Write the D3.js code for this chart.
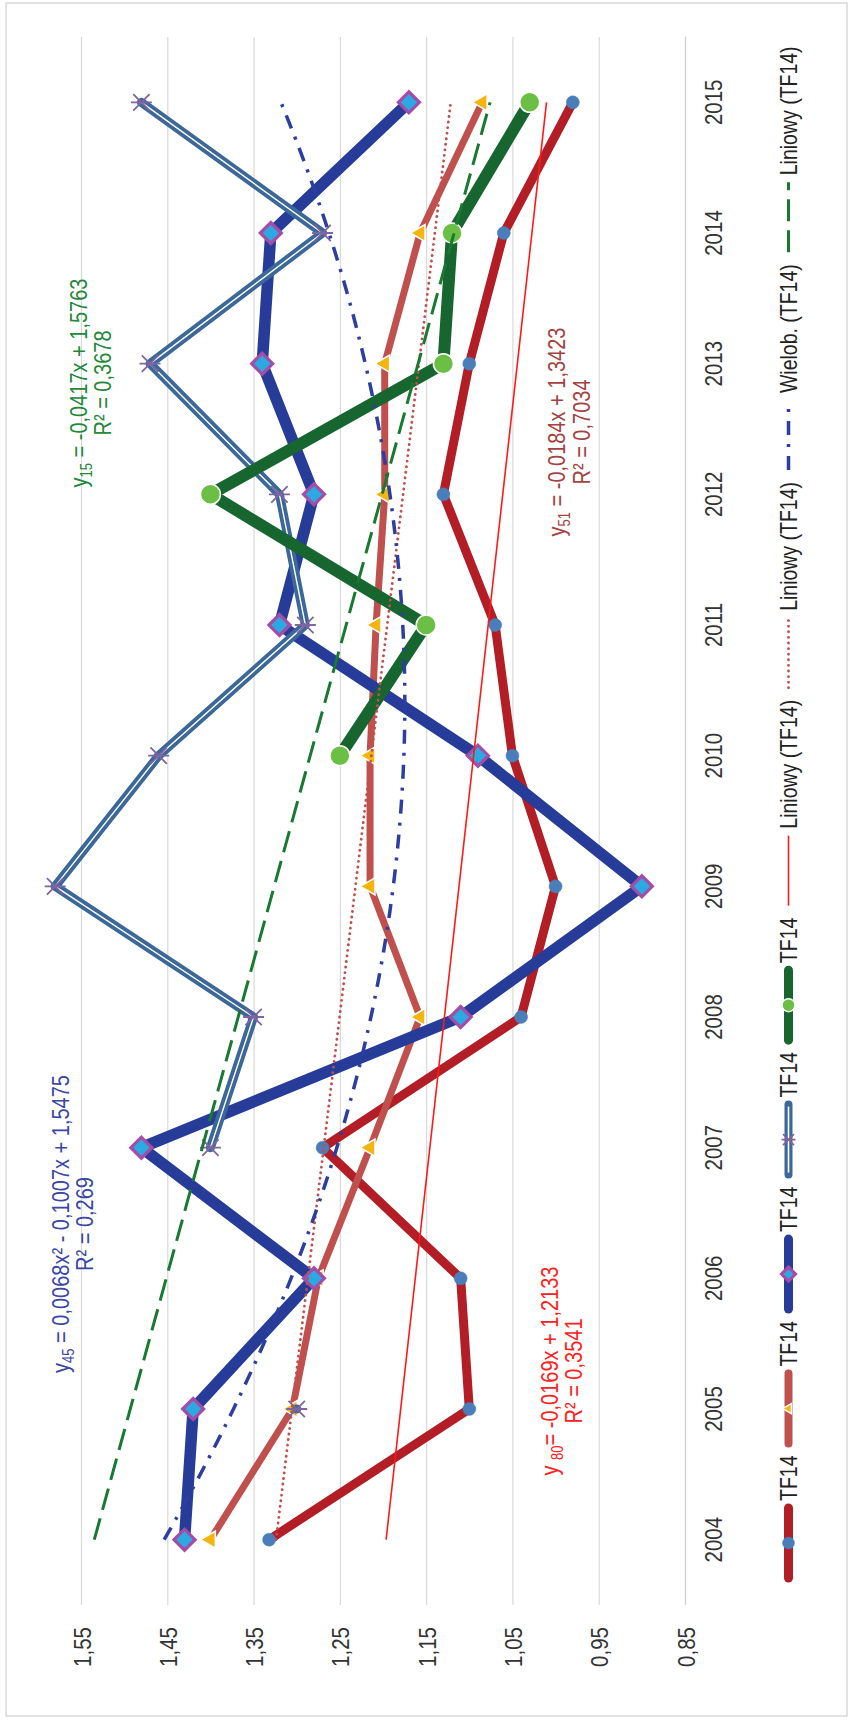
<!DOCTYPE html>
<html><head><meta charset="utf-8">
<script src="https://cdn.jsdelivr.net/npm/d3@7"></script>
<style>body{margin:0;background:#fff}svg{display:block}</style>
</head><body>
<script>
// ---------- data ----------
const years = [2004,2005,2006,2007,2008,2009,2010,2011,2012,2013,2014,2015];
const seriesRed   = [1.332,1.10,1.11,1.27,1.04,1.00,1.05,1.07,1.13,1.10,1.06,0.98];
const seriesBrown = [1.40,1.305,1.275,1.215,1.157,1.215,1.215,1.208,1.198,1.198,1.157,1.085];
const seriesNavy  = [1.43,1.42,1.28,1.48,1.11,0.90,1.09,1.32,1.28,1.34,1.33,1.17];
const seriesSteel = [null,1.30,null,1.40,1.35,1.58,1.46,1.29,1.32,1.47,1.27,1.48];
const seriesGreen = [null,null,null,null,null,null,1.25,1.15,1.40,1.13,1.12,1.03];
const valueTicks  = [0.85,0.95,1.05,1.15,1.25,1.35,1.45,1.55];
const tickLabels  = ["0,85","0,95","1,05","1,15","1,25","1,35","1,45","1,55"];
const legendLabels = ["TF14","TF14","TF14","TF14","TF14","Liniowy (TF14)","Liniowy (TF14)","Wielob. (TF14)","Liniowy (TF14)"];
const trendRedLin   = [-0.0169, 1.2133];
const trendBrownLin = [-0.0184, 1.3423];
const trendNavyPoly = [0.0068, -0.1007, 1.5475];
const trendGreenLin = [-0.0417, 1.5763];
const eqTexts = [
  ["y","15"," = -0,0417x + 1,5763","R² = 0,3678"],
  ["y","45"," = 0,0068x² - 0,1007x + 1,5475","R² = 0,269"],
  ["y","51"," = -0,0184x + 1,3423","R² = 0,7034"],
  ["y ","80","= -0,0169x + 1,2133","R² = 0,3541"]
];

// ---------- setup ----------
const W = 854, H = 1726, SY = 1.2;
const FONT = '"Liberation Sans", Arial, Helvetica, sans-serif';
const svg = d3.select("body").append("svg").attr("width", W).attr("height", H)
  .style("font-family", FONT);
svg.append("rect").attr("width", W).attr("height", H).attr("fill", "#fff");
// chart drawn in landscape frame, rotated 90° counter-clockwise
const g = svg.append("g").attr("transform", `translate(0,${H}) rotate(-90)`);

g.append("rect").attr("x", 10).attr("y", 6).attr("width", 1713).attr("height", 841)
  .attr("fill", "none").attr("stroke", "#d9d9d9").attr("stroke-width", 1.5);

const X0 = 121, X1 = 1689;
const xBand = d3.scaleBand().domain(years).range([X0, X1]);
const xc = yr => xBand(yr) + xBand.bandwidth() / 2;
const xi = d3.scaleLinear().domain([1, 12]).range([xc(years[0]), xc(years[11])]);
const y = d3.scaleLinear().domain([0.85, 1.55]).range([685, 81]);

function stretchText(sel, x, base) {
  return sel.attr("x", x).attr("y", base / SY).attr("transform", `scale(1,${SY})`);
}

// value axis with gridlines
const yAxis = g.append("g").attr("transform", `translate(${X0},0)`)
  .call(d3.axisLeft(y).tickValues(valueTicks).tickSize(-(X1 - X0)).tickPadding(22)
    .tickFormat((d, i) => tickLabels[i]));
yAxis.select(".domain").remove();
yAxis.selectAll(".tick line").attr("stroke", "#d9d9d9").attr("stroke-width", 1.2);
yAxis.selectAll(".tick text").attr("fill", "#333").attr("font-size", 20.5)
  .attr("font-family", FONT).attr("dy", "0.37em").attr("transform", `scale(1,${SY})`);

// category axis
const xAxis = g.append("g").attr("transform", "translate(0,685)")
  .call(d3.axisBottom(xBand).tickSize(0).tickPadding(0));
xAxis.select(".domain").attr("stroke", "#d0d0d0").attr("stroke-width", 1.2);
xAxis.selectAll(".tick text").attr("fill", "#333").attr("font-size", 20.5)
  .attr("font-family", FONT).attr("dy", 0).attr("y", 37 / SY).attr("transform", `scale(1,${SY})`);

// ---------- series ----------
const toPts = arr => years.map((yr, i) => ({ yr, v: arr[i] }));
const line = d3.line().defined(d => d.v != null).x(d => xc(d.yr)).y(d => y(d.v));

function pathLine(arr, color, w) {
  return g.append("path").datum(toPts(arr)).attr("d", line).attr("fill", "none")
    .attr("stroke", color).attr("stroke-width", w)
    .attr("stroke-linejoin", "round").attr("stroke-linecap", "round");
}

const diamondPath = r => `M0,${-r}L${r},0L0,${r}L${-r},0Z`;
const starPath = r => { const a = r * 0.78; return `M0,${-r}L0,${r}M${-a},${-a}L${a},${a}M${-a},${a}L${a},${-a}`; };

function markers(arr, drawFn) {
  toPts(arr).filter(d => d.v != null).forEach(d => drawFn(g, xc(d.yr), y(d.v)));
}
const mkDot = (p, cx, cy, r = 6.5) => p.append("circle").attr("cx", cx).attr("cy", cy).attr("r", r)
  .attr("fill", "#4a7ebb").attr("stroke", "#4a7ebb").attr("stroke-width", 0.5);
const mkTri = (p, cx, cy, s = 125) => p.append("path").attr("d", d3.symbol(d3.symbolTriangle, s)())
  .attr("transform", `translate(${cx},${cy})`).attr("fill", "#f5b50f").attr("stroke", "#fff").attr("stroke-width", 1.5);
const mkDia = (p, cx, cy, r = 10.5) => p.append("path").attr("d", diamondPath(r))
  .attr("transform", `translate(${cx},${cy})`).attr("fill", "#2aaae0").attr("stroke", "#a54ca8").attr("stroke-width", 3.2);
const mkStar = (p, cx, cy, r = 10.5) => p.append("path").attr("d", starPath(r))
  .attr("transform", `translate(${cx},${cy})`).attr("fill", "none").attr("stroke", "#8064a2").attr("stroke-width", 1.8);
const mkCirc = (p, cx, cy, r = 10) => p.append("circle").attr("cx", cx).attr("cy", cy).attr("r", r)
  .attr("fill", "#6cbf45").attr("stroke", "#fff").attr("stroke-width", 1.5);

// 1 red
pathLine(seriesRed, "#b31d25", 9); markers(seriesRed, mkDot);
// 2 brown
pathLine(seriesBrown, "#c0504d", 7); markers(seriesBrown, mkTri);
// 3 navy
pathLine(seriesNavy, "#273c98", 11.5); markers(seriesNavy, mkDia);
// 4 steel double
pathLine(seriesSteel, "#3b6899", 9); pathLine(seriesSteel, "#fff", 1.4); markers(seriesSteel, mkStar);
// 5 green
pathLine(seriesGreen, "#17652f", 12); markers(seriesGreen, mkCirc);

// ---------- trendlines ----------
const trendLine = d3.line().x(d => xi(d.i)).y(d => y(d.v));
function linTrend(c) { return [1, 12].map(i => ({ i, v: c[0] * i + c[1] })); }
const polyPts = d3.range(1, 12.001, 0.1).map(i => ({ i, v: trendNavyPoly[0] * i * i + trendNavyPoly[1] * i + trendNavyPoly[2] }));

g.append("path").datum(linTrend(trendRedLin)).attr("d", trendLine).attr("fill", "none")
  .attr("stroke", "#ff1a1a").attr("stroke-width", 1.6);
g.append("path").datum(linTrend(trendBrownLin)).attr("d", trendLine).attr("fill", "none")
  .attr("stroke", "#c0504d").attr("stroke-width", 2.8).attr("stroke-linecap", "round").attr("stroke-dasharray", "0.1 5.5");
g.append("path").datum(polyPts).attr("d", trendLine).attr("fill", "none")
  .attr("stroke", "#2c3ea0").attr("stroke-width", 3.5).attr("stroke-dasharray", "14 9 3 9");
g.append("path").datum(linTrend(trendGreenLin)).attr("d", trendLine).attr("fill", "none")
  .attr("stroke", "#187a30").attr("stroke-width", 3).attr("stroke-dasharray", "22 9");

// ---------- equation labels ----------
const eqLayout = [
  { x: 1343, b1: 87, b2: 111, color: "#22883a" },
  { x: 502, b1: 69, b2: 93, color: "#3a47a6" },
  { x: 1294, b1: 565, b2: 590, color: "#a4423f" },
  { x: 355, b1: 558, b2: 582, color: "#ff2020" }
];
eqTexts.forEach((e, k) => {
  const L = eqLayout[k];
  const t1 = stretchText(g.append("text"), L.x, L.b1).attr("text-anchor", "middle")
    .attr("font-size", 20).attr("fill", L.color);
  t1.append("tspan").text(e[0]);
  t1.append("tspan").attr("font-size", 13).attr("dy", 4).text(e[1]);
  t1.append("tspan").attr("dy", -4).text(e[2]);
  stretchText(g.append("text"), L.x, L.b2).attr("text-anchor", "middle")
    .attr("font-size", 20).attr("fill", L.color).text(e[3]);
});

// ---------- legend ----------
const LY = 788.5, SYM = 70;
let lx = 148;
const legendDraw = [
  p => { p.append("line").attr("x1", 0).attr("x2", SYM).attr("stroke", "#b31d25").attr("stroke-width", 9).attr("stroke-linecap", "round"); mkDot(p, SYM / 2, 0, 6); },
  p => { p.append("line").attr("x1", 0).attr("x2", SYM).attr("stroke", "#c0504d").attr("stroke-width", 8).attr("stroke-linecap", "round"); mkTri(p, SYM / 2, 0, 45); },
  p => { p.append("line").attr("x1", 0).attr("x2", SYM).attr("stroke", "#273c98").attr("stroke-width", 9).attr("stroke-linecap", "round"); mkDia(p, SYM / 2, 0, 7); },
  p => { p.append("line").attr("x1", 0).attr("x2", SYM).attr("stroke", "#3b6899").attr("stroke-width", 8).attr("stroke-linecap", "round");
         p.append("line").attr("x1", 2).attr("x2", SYM - 2).attr("stroke", "#fff").attr("stroke-width", 1.6); mkStar(p, SYM / 2, 0, 7); },
  p => { p.append("line").attr("x1", 0).attr("x2", SYM).attr("stroke", "#17652f").attr("stroke-width", 9).attr("stroke-linecap", "round"); mkCirc(p, SYM / 2, 0, 6.5); },
  p => { p.append("line").attr("x1", 0).attr("x2", SYM).attr("stroke", "#ff1a1a").attr("stroke-width", 1.6); },
  p => { p.append("line").attr("x1", 0).attr("x2", SYM).attr("stroke", "#c0504d").attr("stroke-width", 2.8).attr("stroke-linecap", "round").attr("stroke-dasharray", "0.1 5.5"); },
  p => { p.append("line").attr("x1", 0).attr("x2", SYM).attr("stroke", "#2c3ea0").attr("stroke-width", 3.5).attr("stroke-dasharray", "14 9 3 9"); },
  p => { p.append("line").attr("x1", 0).attr("x2", SYM).attr("stroke", "#187a30").attr("stroke-width", 3).attr("stroke-dasharray", "22 9 22 9"); }
];
legendLabels.forEach((lab, k) => {
  const p = g.append("g").attr("transform", `translate(${lx},${LY})`);
  legendDraw[k](p);
  const t = stretchText(p.append("text"), SYM + 7, 8.5).attr("font-size", 19.5).attr("fill", "#222").text(lab);
  lx += SYM + 7 + t.node().getComputedTextLength() + 12;
});
</script>
</body></html>
